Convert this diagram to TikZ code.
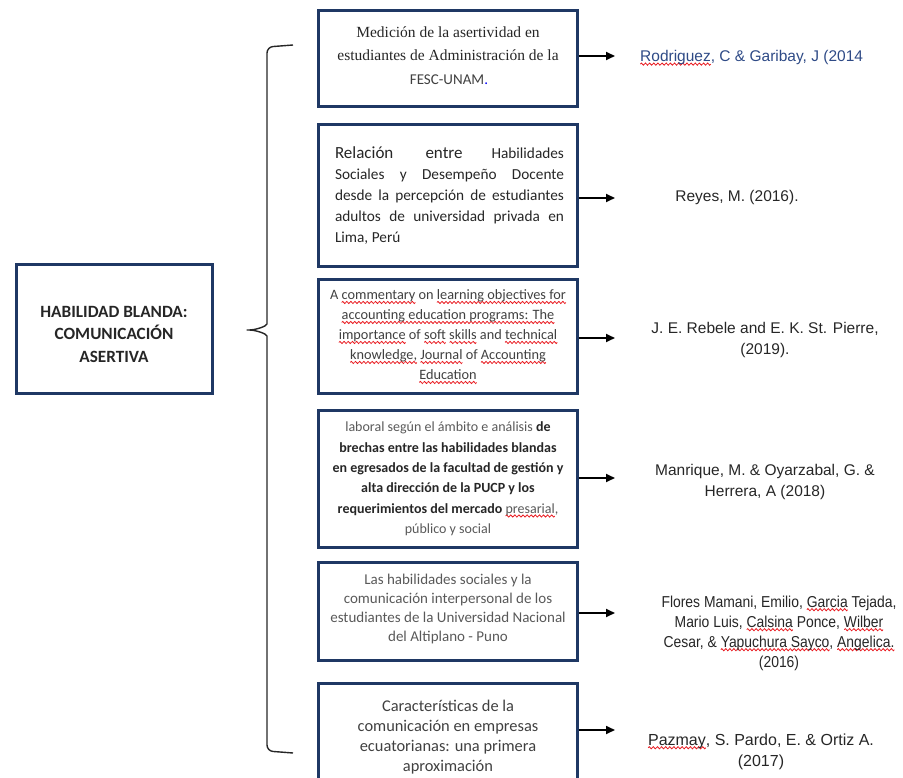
\documentclass[tikz,border=0pt]{standalone}
\usepackage{fontspec}
\usetikzlibrary{arrows.meta}
\setmainfont{Carlito}
\newfontfamily\arialf{Liberation Sans}
\newfontfamily\arialn[FakeStretch=0.88]{Liberation Sans}
\newfontfamily\timesf{Liberation Serif}
\definecolor{navy}{HTML}{1F3864}
\definecolor{refblue}{HTML}{2E4A86}
\definecolor{txtA}{HTML}{262626}
\definecolor{txtB}{HTML}{404040}
\definecolor{txtC}{HTML}{595959}
\definecolor{wavered}{HTML}{E8191F}
\newcommand\fs[2]{\fontsize{#1}{#2}\selectfont}
\newsavebox\wavebox
\AtBeginDocument{\sbox\wavebox{\pgfpicture
  \pgfpathrectangle{\pgfpoint{0pt}{-1.6pt}}{\pgfpoint{4pt}{3.2pt}}\pgfusepath{use as bounding box}
  \pgfsetlinewidth{0.8pt}\pgfsetstrokecolor{wavered}
  \pgfpathmoveto{\pgfpointorigin}
  \pgfpathsine{\pgfpoint{1pt}{1.1pt}}
  \pgfpathcosine{\pgfpoint{1pt}{-1.1pt}}
  \pgfpathsine{\pgfpoint{1pt}{-1.1pt}}
  \pgfpathcosine{\pgfpoint{1pt}{1.1pt}}
  \pgfusepath{stroke}
\endpgfpicture}}
\newcommand\rw[1]{\leavevmode\setbox0\hbox{#1}\rlap{\raisebox{-4.2pt}{\hbox to \wd0{\xleaders\copy\wavebox\hfil}}}\box0\relax}
\tikzset{
  x=1pt, y=-1pt,
  box/.style={draw=navy, line width=3pt, rectangle, inner sep=0pt, minimum width=259pt},
  arr/.style={line width=1.7pt, -{Triangle[length=9pt,width=8pt]}},
  brace/.style={line width=1.4pt, draw=txtA},
  reftext/.style={font=\arialf\fs{15.5}{21}, text=txtA, align=center},
}
\begin{document}
\begin{tikzpicture}
\useasboundingbox (0,0) rectangle (903,778);
\clip (0,0) rectangle (903,778);
% left box
\node[box, minimum width=196pt, minimum height=128pt] (lb) at (114,329) {};
\node[font=\fs{17.2}{22.5}\bfseries, text=txtA, align=center] (lt) at (114,334) {HABILIDAD BLANDA:\\COMUNICACIÓN\\ASERTIVA};
% brace
\draw[brace, rounded corners=6pt] (293,45) -- (267,47) -- (267,318) .. controls (267,326) and (256,330) .. (243,330) .. controls (256,330) and (267,334) .. (267,342) -- (267,751) -- (293,753);
% boxes
\node[box, minimum height=96pt] (b1) at (447.5,59) {};
\node[box, minimum height=142pt] (b2) at (447.5,196) {};
\node[box, minimum height=113pt] (b3) at (447.5,336.5) {};
\node[box, minimum height=137pt] (b4) at (447.5,478.5) {};
\node[box, minimum height=98pt] (b5) at (447.5,611) {};
\node[box, minimum height=117pt] (b6) at (447.5,741.5) {};
% box texts
\node[font=\timesf\fs{15.5}{23}, text=txtA, align=center] (b1t) at (448,44) {Medición de la asertividad en\\estudiantes de Administración de la};
\node[font=\fs{15}{16}, text=txtB] (b1u) at (449,80) {FESC-UNAM\textcolor{blue}{.}};
\node[font=\fs{15.3}{21}, text=txtA, align=left, inner sep=0pt] (b2t) at (449.5,196) {%
\makebox[229pt][s]{{\fs{17}{21}Relación entre} Habilidades}\\
\makebox[229pt][s]{Sociales y Desempeño Docente}\\
\makebox[229pt][s]{desde la percepción de estudiantes}\\
\makebox[229pt][s]{adultos de universidad privada en}\\
Lima, Perú};
\node[font=\fs{14.3}{20}, text=txtB, align=center] (b3t) at (448,337) {%
A \rw{commentary} on \rw{learning objectives for}\\
\rw{accounting education programs: The}\\
\rw{importance} of \rw{soft} \rw{skills} and \rw{technical}\\
\rw{knowledge,} \rw{Journal} of \rw{Accounting}\\
\rw{Education}};
\node[font=\fs{14}{20.4}, text=txtA, align=center] (b4t) at (448,479) {%
{\color{txtC}laboral según el ámbito e análisis} \textbf{de}\\
\textbf{brechas entre las habilidades blandas}\\
\textbf{en egresados de la facultad de gestión y}\\
\textbf{alta dirección de la PUCP y los}\\
\textbf{requerimientos del mercado} {\color{txtC}\rw{presarial},}\\
{\color{txtC}público y social}};
\node[font=\fs{15}{19}, text=txtC, align=center] (b5t) at (448,609) {%
Las habilidades sociales y la\\
comunicación interpersonal de los\\
estudiantes de la Universidad Nacional\\
del Altiplano - Puno};
\node[font=\fs{16.4}{20}, text=txtB, align=center] (b6t) at (448,737) {%
Características de la\\
comunicación en empresas\\
ecuatorianas: una primera\\
aproximación};
% reference texts
\node[reftext, text=refblue, anchor=west, inner sep=0pt] (r1) at (640,58) {\rw{Rodriguez}, C \& Garibay, J (2014};
\node[reftext] (r2) at (737,197) {Reyes, M. (2016).};
\node[reftext] (r3) at (765,339.5) {J. E. Rebele and E. K. St. Pierre,\\(2019).};
\node[reftext] (r4) at (765,481.5) {Manrique, M. \& Oyarzabal, G. \&\\Herrera, A (2018)};
\node[reftext, font=\arialn\fs{15.8}{20}] (r5) at (779,633) {Flores Mamani, Emilio, \rw{Garcia} Tejada,\\Mario Luis, \rw{Calsina} Ponce, \rw{Wilber}\\Cesar, \& \rw{Yapuchura Sayco}, \rw{Angelica.}\\(2016)};
\node[reftext, font=\arialf\fs{16}{21}] (r6) at (761,751.5) {\rw{Pazmay}, S. Pardo, E. \& Ortiz A.\\(2017)};
% arrow ends
\coordinate (a1) at (615,56);
\coordinate (a2) at (615,198);
\coordinate (a3) at (615,338);
\coordinate (a4) at (615,478);
\coordinate (a5) at (615,613);
\coordinate (a6) at (615,730);
\draw[arr] (b1.east |- a1) -- (a1);
\draw[arr] (b2.east |- a2) -- (a2);
\draw[arr] (b3.east |- a3) -- (a3);
\draw[arr] (b4.east |- a4) -- (a4);
\draw[arr] (b5.east |- a5) -- (a5);
\draw[arr] (b6.east |- a6) -- (a6);
\end{tikzpicture}
\end{document}
